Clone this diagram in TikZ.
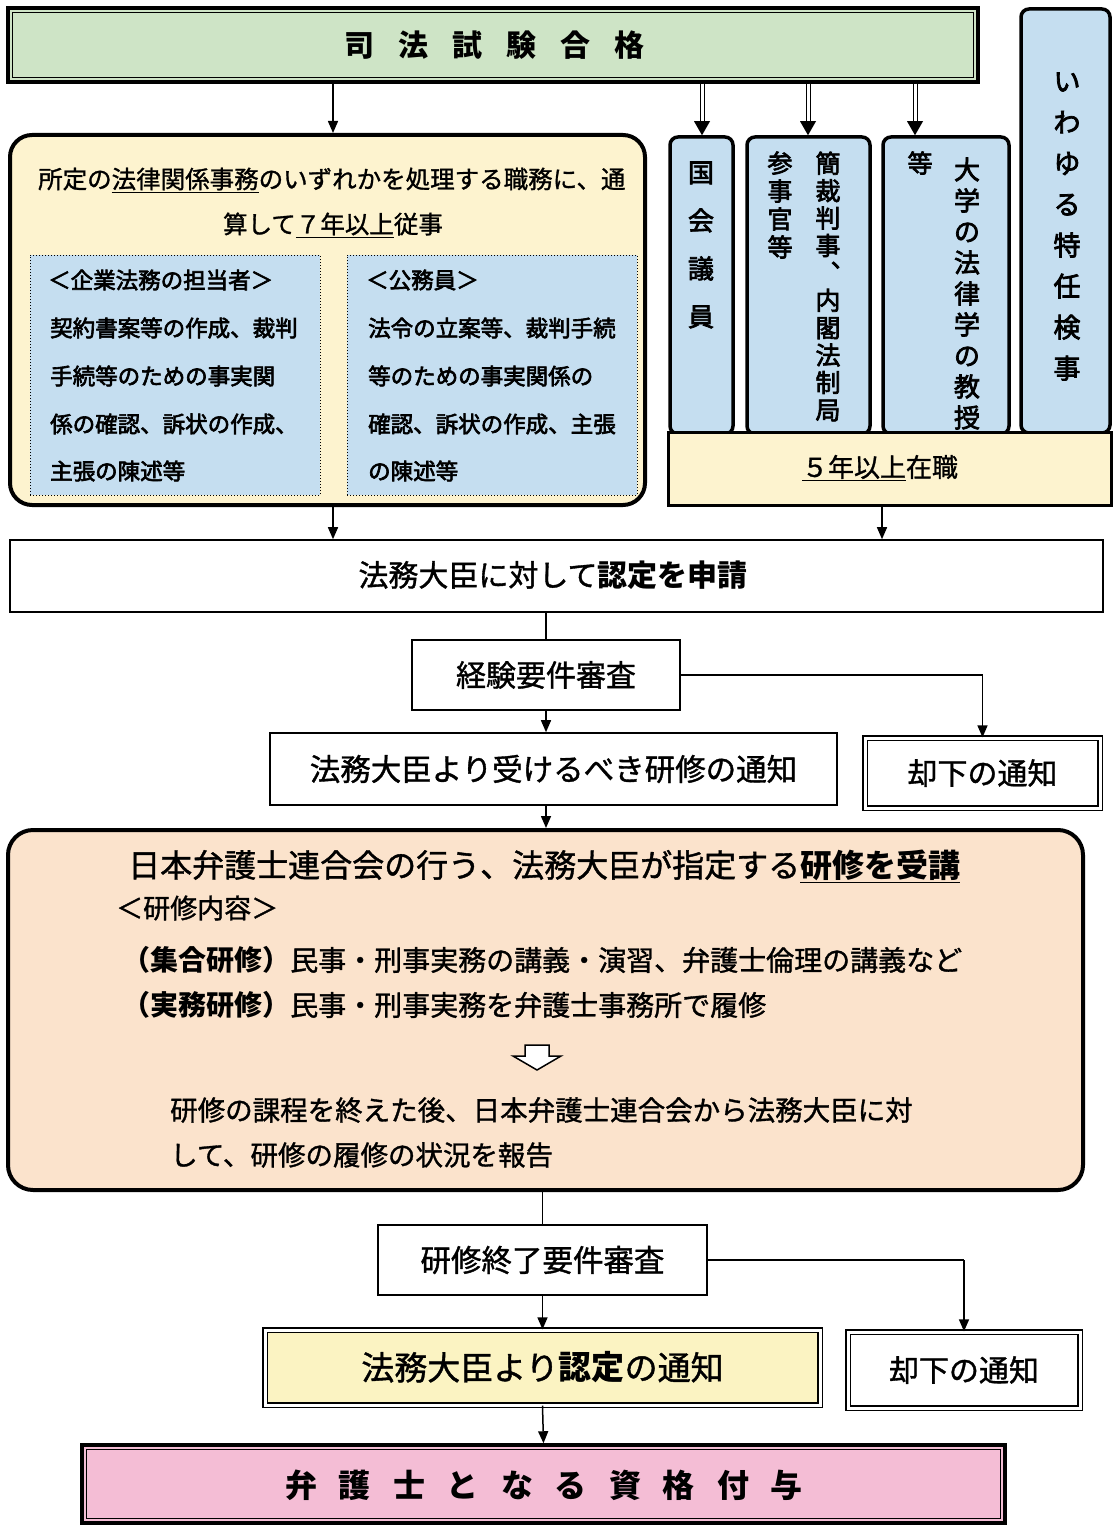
\documentclass[tikz,border=0pt]{standalone}
\usepackage{fontspec}
\setmainfont{Noto Sans CJK JP}[UprightFeatures={FakeBold=1.2}]
\newfontfamily\med{Noto Sans CJK JP}[FakeBold=2.8]
\usetikzlibrary{arrows.meta,calc}
\definecolor{gr}{RGB}{206,228,198}
\definecolor{bl}{RGB}{197,222,240}
\definecolor{ye}{RGB}{253,243,207}
\definecolor{orr}{RGB}{251,227,204}
\definecolor{ye2}{RGB}{251,243,194}
\definecolor{pk}{RGB}{244,189,213}
\begin{document}
\begin{tikzpicture}[x=1pt,y=-1pt,
  >={Triangle[length=12pt,width=10pt]},
  frame/.style={draw, line width=1.6pt, inner sep=0pt, fill=white},
  dbox/.style={draw, double, double distance=3pt, line width=1.3pt, inner sep=0pt},
  vbox/.style={draw, line width=3.5pt, rounded corners=8pt, fill=bl, inner sep=0pt},
  vtxt/.style={align=center, inner sep=0pt},
  conn/.style={line width=1.5pt},
  arr/.style={line width=1.5pt, ->},
  dblarr/.style={line width=1pt, double distance=3pt},
  lbl/.style={inner sep=0pt},
]
\useasboundingbox (0,0) rectangle (1113,1525);
\fill[white] (0,0) rectangle (1113,1525);

% top green bar
\node[draw, line width=3.5pt, fill=gr, minimum width=970pt, minimum height=74pt, inner sep=0pt] (green) at (493,45) {};
\draw[line width=1.2pt] ([xshift=6pt,yshift=-6pt]green.north west) rectangle ([xshift=-6pt,yshift=6pt]green.south east);
\node[lbl, font=\fontsize{30}{30}\selectfont\bfseries] (greentxt) at (494,45) {司\hspace{24pt}法\hspace{24pt}試\hspace{24pt}験\hspace{24pt}合\hspace{24pt}格};

% right vertical boxes
\node[vbox, minimum width=89pt, minimum height=424pt] (toku) at (1065.5,221) {};
\node[vbox, minimum width=63pt, minimum height=297pt] (kokkai) at (701.5,285.5) {};
\node[vbox, minimum width=123pt, minimum height=297pt] (kansai) at (808.5,285.5) {};
\node[vbox, minimum width=126pt, minimum height=297pt] (daigaku) at (946,285.5) {};
\node[draw, line width=3pt, fill=ye, minimum width=443pt, minimum height=73pt, inner sep=0pt] (gonen) at (889.5,468.5) {};
\node[lbl, font=\fontsize{26}{26}\selectfont] (gonentxt) at (880,468) {\underline{５年以上}在職};

\node[vtxt, font=\med\fontsize{26}{48}\selectfont] (t1) at (701,245) {国\\会\\議\\員};
\node[vtxt, font=\med\fontsize{25}{27.4}\selectfont] (t2) at (828,286.5) {簡\\裁\\判\\事\\︑\\内\\閣\\法\\制\\局};
\node[vtxt, font=\med\fontsize{25}{28}\selectfont] (t3) at (780,205) {参\\事\\官\\等};
\node[vtxt, font=\med\fontsize{26}{31}\selectfont] (t4) at (967,293.5) {大\\学\\の\\法\\律\\学\\の\\教\\授};
\node[vtxt, font=\med\fontsize{25}{25}\selectfont] (t5) at (920,163) {等};
\node[vtxt, font=\med\fontsize{27}{41}\selectfont] (t6) at (1067,226.5) {い\\わ\\ゆ\\る\\特\\任\\検\\事};

% left box
\node[draw, line width=4pt, rounded corners=22pt, fill=ye, minimum width=635pt, minimum height=370pt, inner sep=0pt] (left) at (327.5,320) {};
\node[lbl, anchor=west, font=\fontsize{24.5}{24.5}\selectfont] (l1) at (38,180) {所定の\underline{法律関係事務}のいずれかを処理する職務に、通};
\node[lbl, font=\fontsize{24.5}{24.5}\selectfont] (l2) at (333,225) {算して\underline{７年以上}従事};
\node[draw, dotted, line width=1pt, fill=bl, minimum width=290pt, minimum height=240pt, inner sep=0pt] (subL) at (175,375) {};
\node[draw, dotted, line width=1pt, fill=bl, minimum width=290pt, minimum height=240pt, inner sep=0pt] (subR) at (492,375) {};
\begin{scope}[every node/.style={lbl, anchor=west, font=\med\fontsize{22.5}{22.5}\selectfont}]
\node (a1t) at (48,280) {＜企業法務の担当者＞};
\node (a2t) at (50,328) {契約書案等の作成、裁判};
\node (a3t) at (50,376) {手続等のための事実関};
\node (a4t) at (50,424) {係の確認、訴状の作成、};
\node (a5t) at (50,471) {主張の陳述等};
\node (b1t) at (366,280) {＜公務員＞};
\node (b2t) at (368,328) {法令の立案等、裁判手続};
\node (b3t) at (368,376) {等のための事実関係の};
\node (b4t) at (368,424) {確認、訴状の作成、主張};
\node (b5t) at (368,471) {の陳述等};
\end{scope}

% middle boxes
\node[frame, minimum width=1093pt, minimum height=72pt] (shinsei) at (556.5,576) {};
\node[lbl, font=\fontsize{30}{30}\selectfont] (shinseitxt) at (553,575) {法務大臣に対して\textbf{認定を申請}};
\node[frame, minimum width=268pt, minimum height=70pt, font=\fontsize{30}{30}\selectfont] (keiken) at (546,675) {経験要件審査};
\node[frame, minimum width=567pt, minimum height=72pt, font=\fontsize{30.5}{30.5}\selectfont] (tsuchi) at (553.5,769) {法務大臣より受けるべき研修の通知};
\node[dbox, fill=white, minimum width=235pt, minimum height=70pt, font=\fontsize{30}{30}\selectfont] (kyakka1) at (982.5,773) {却下の通知};

% orange box
\node[draw, line width=4pt, rounded corners=25pt, fill=orr, minimum width=1075pt, minimum height=360pt, inner sep=0pt] (orange) at (545.5,1010) {};
\node[lbl, anchor=west, font=\fontsize{32}{32}\selectfont] (o1) at (128,866) {日本弁護士連合会の行う、法務大臣が指定する\underline{\textbf{研修を受講}}};
\node[lbl, anchor=west, font=\fontsize{27}{27}\selectfont] (o2) at (116,908) {＜研修内容＞};
\node[lbl, anchor=west, font=\fontsize{28}{28}\selectfont] (o3) at (122,960) {\textbf{（集合研修）}民事・刑事実務の講義・演習、弁護士倫理の講義など};
\node[lbl, anchor=west, font=\fontsize{28}{28}\selectfont] (o4) at (122,1005) {\textbf{（実務研修）}民事・刑事実務を弁護士事務所で履修};
\draw[line width=1.5pt, fill=white] (525,1045) -- (549,1045) -- (549,1056) -- (561,1056) -- (537,1070) -- (513,1056) -- (525,1056) -- cycle;
\node[lbl, anchor=west, font=\fontsize{27.5}{27.5}\selectfont] (o5) at (170,1110) {研修の課程を終えた後、日本弁護士連合会から法務大臣に対};
\node[lbl, anchor=west, font=\fontsize{27.5}{27.5}\selectfont] (o6) at (170,1155) {して、研修の履修の状況を報告};

% lower boxes
\node[frame, minimum width=329pt, minimum height=70pt, font=\fontsize{30.5}{30.5}\selectfont] (shuryo) at (542.5,1260) {研修終了要件審査};
\node[dbox, fill=ye2, minimum width=555pt, minimum height=75pt, font=\fontsize{33}{33}\selectfont] (nintei) at (542.5,1367.5) {法務大臣より\textbf{認定}の通知};
\node[dbox, fill=white, minimum width=232pt, minimum height=76pt, font=\fontsize{30}{30}\selectfont] (kyakka2) at (964,1370) {却下の通知};
\node[draw, line width=3.5pt, fill=pk, minimum width=923pt, minimum height=78pt, inner sep=0pt] (bengo) at (543.5,1484) {};
\draw[line width=1.2pt] ([xshift=6pt,yshift=-6pt]bengo.north west) rectangle ([xshift=-6pt,yshift=6pt]bengo.south east);
\node[lbl, font=\fontsize{32}{32}\selectfont\bfseries] (bengotxt) at (544,1485) {弁\hspace{22pt}護\hspace{22pt}士\hspace{22pt}と\hspace{22pt}な\hspace{22pt}る\hspace{22pt}資\hspace{22pt}格\hspace{22pt}付\hspace{22pt}与};

% connectors
\coordinate (xa) at (333,0);
\coordinate (xb) at (882,0);
\coordinate (d1) at (702,0);
\coordinate (d2) at (808,0);
\coordinate (d3) at (915,0);
\draw[arr] (green.south -| xa) -- (left.north -| xa);
\foreach \d/\b in {d1/kokkai, d2/kansai, d3/daigaku}{
  \draw[dblarr] (green.south -| \d) -- ($(\b.north -| \d)+(0,-12)$);
  \fill ($(\b.north -| \d)+(-8,-14)$) -- ($(\b.north -| \d)+(8,-14)$) -- (\b.north -| \d) -- cycle;
}
\draw[arr] (left.south -| xa) -- (shinsei.north -| xa);
\draw[arr] (gonen.south -| xb) -- (shinsei.north -| xb);
\draw[conn] (shinsei.south -| keiken.north) -- (keiken.north);
\draw[arr] (keiken.south) -- (tsuchi.north -| keiken.south);
\draw[line width=2.5pt] (keiken.east) -- (kyakka1.north |- keiken.east);
\draw[arr] (kyakka1.north |- keiken.east) -- (kyakka1.north);
\draw[arr] (tsuchi.south -| keiken.south) -- (orange.north -| keiken.south);
\draw[conn] (orange.south -| shuryo.north) -- (shuryo.north);
\draw[arr] (shuryo.south) -- (nintei.north);
\draw[line width=2.5pt] (shuryo.east) -- (kyakka2.north |- shuryo.east);
\draw[arr] (kyakka2.north |- shuryo.east) -- (kyakka2.north);
\draw[arr] (nintei.south) -- (bengo.north);
\end{tikzpicture}
\end{document}
